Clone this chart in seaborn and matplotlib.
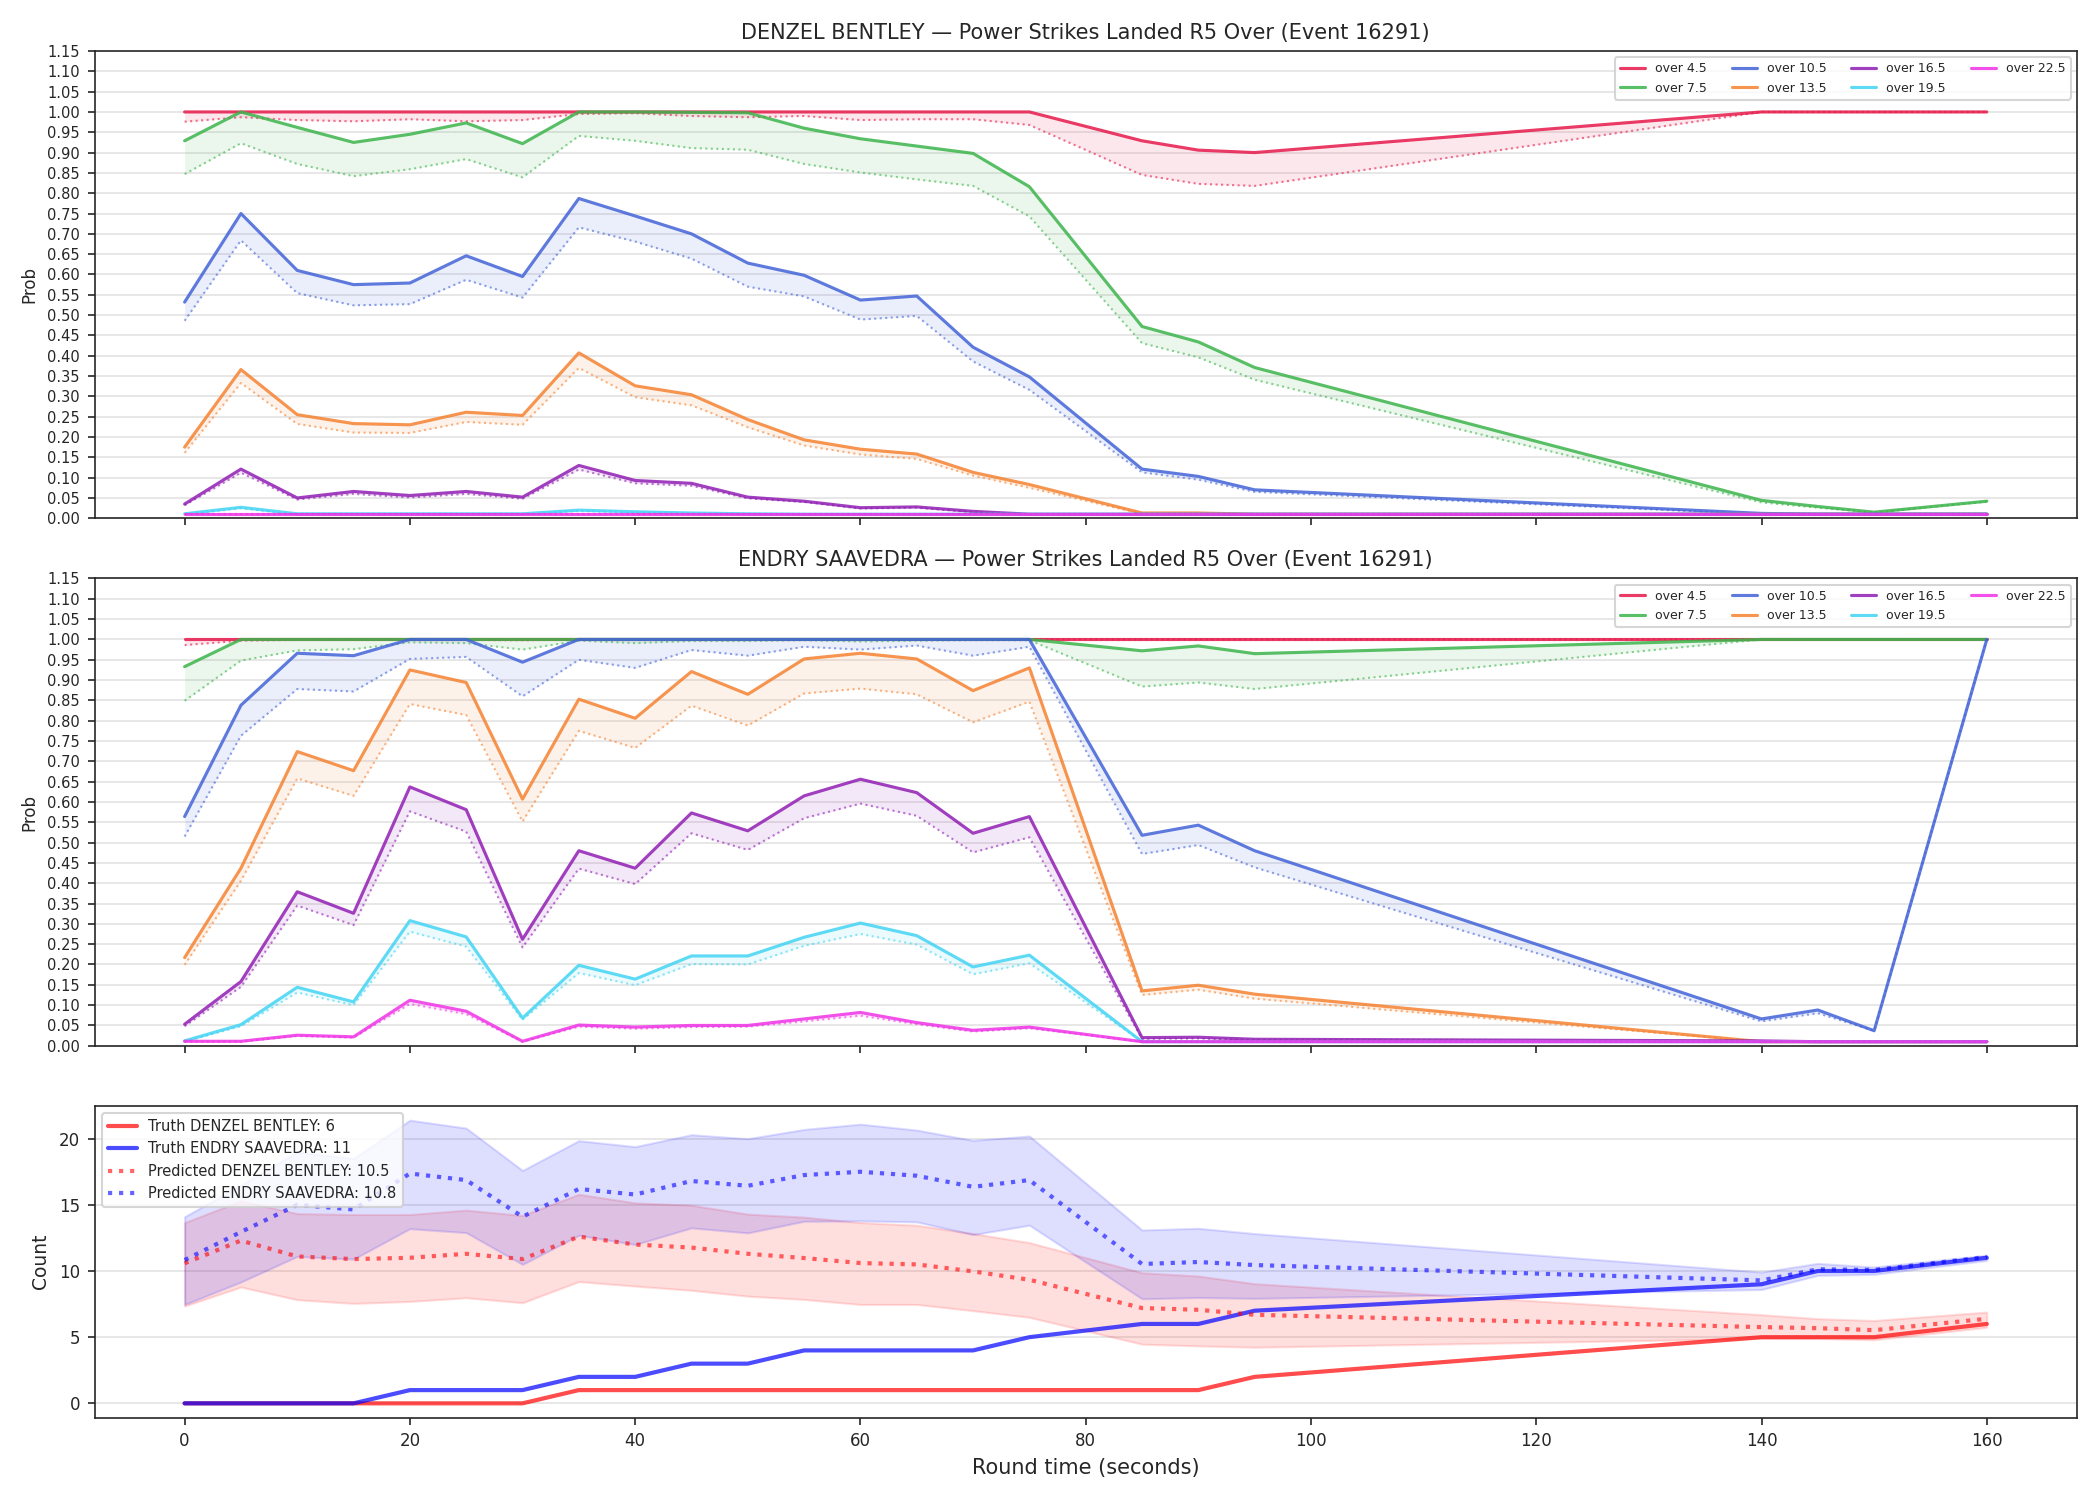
import numpy as np
import pandas as pd
import matplotlib
matplotlib.use("Agg")
import matplotlib.pyplot as plt
import seaborn as sns

# Round time grid (seconds)
times = [0, 5, 10, 15, 20, 25, 30, 35, 40, 45, 50, 55, 60, 65, 70, 75, 85, 90, 95, 140, 145, 150, 160]

thresholds = ["over 4.5", "over 7.5", "over 10.5", "over 13.5", "over 16.5", "over 19.5", "over 22.5"]

# DENZEL BENTLEY - upper (solid) and lower (dotted) probabilities
d45_hi = [1.0, 1.0, 1.0, 1.0, 1.0, 1.0, 1.0, 1.0, 1.0, 1.0, 1.0, 1.0, 1.0, 1.0, 1.0, 1.0, 0.929, 0.906, 0.90, 1.0, 1.0, 1.0, 1.0]
d45_lo = [0.976, 0.987, 0.98, 0.977, 0.982, 0.977, 0.98, 0.995, 0.997, 0.99, 0.987, 0.99, 0.98, 0.982, 0.982, 0.968, 0.845, 0.823, 0.818, 1.0, 1.0, 1.0, 1.0]
d75_hi = [0.929, 1.0, 0.962, 0.925, 0.945, 0.973, 0.922, 1.0, 1.0, 0.999, 0.998, 0.96, 0.934, 0.916, 0.898, 0.816, 0.472, 0.434, 0.371, 0.044, 0.029, 0.015, 0.042]
d75_lo = [0.847, 0.923, 0.872, 0.842, 0.859, 0.884, 0.839, 0.941, 0.929, 0.911, 0.907, 0.872, 0.851, 0.834, 0.818, 0.743, 0.431, 0.396, 0.341, 0.039, 0.026, 0.014, 0.041]
d105_hi = [0.532, 0.75, 0.61, 0.575, 0.579, 0.646, 0.595, 0.787, 0.744, 0.70, 0.628, 0.598, 0.537, 0.547, 0.421, 0.348, 0.121, 0.103, 0.07, 0.012, 0.01, 0.01, 0.01]
d105_lo = [0.486, 0.684, 0.554, 0.524, 0.527, 0.587, 0.543, 0.716, 0.681, 0.639, 0.570, 0.546, 0.489, 0.498, 0.386, 0.316, 0.113, 0.095, 0.065, 0.01, 0.01, 0.01, 0.01]
d135_hi = [0.175, 0.366, 0.255, 0.233, 0.230, 0.261, 0.253, 0.407, 0.326, 0.304, 0.243, 0.193, 0.170, 0.158, 0.113, 0.083, 0.013, 0.013, 0.01, 0.01, 0.01, 0.01, 0.01]
d135_lo = [0.161, 0.333, 0.232, 0.211, 0.21, 0.237, 0.23, 0.37, 0.298, 0.278, 0.224, 0.179, 0.157, 0.146, 0.105, 0.075, 0.011, 0.011, 0.01, 0.01, 0.01, 0.01, 0.01]
d165_hi = [0.035, 0.121, 0.05, 0.066, 0.056, 0.066, 0.052, 0.13, 0.093, 0.086, 0.052, 0.042, 0.026, 0.028, 0.017, 0.01, 0.01, 0.01, 0.01, 0.01, 0.01, 0.01, 0.01]
d165_lo = [0.032, 0.112, 0.046, 0.06, 0.051, 0.06, 0.048, 0.12, 0.086, 0.08, 0.049, 0.04, 0.024, 0.026, 0.015, 0.01, 0.01, 0.01, 0.01, 0.01, 0.01, 0.01, 0.01]
d195_hi = [0.011, 0.027, 0.011, 0.011, 0.011, 0.011, 0.011, 0.02, 0.016, 0.013, 0.011, 0.01, 0.01, 0.01, 0.01, 0.01, 0.01, 0.01, 0.01, 0.01, 0.01, 0.01, 0.01]
d195_lo = [0.01, 0.024, 0.01, 0.01, 0.01, 0.01, 0.01, 0.018, 0.014, 0.012, 0.01, 0.01, 0.01, 0.01, 0.01, 0.01, 0.01, 0.01, 0.01, 0.01, 0.01, 0.01, 0.01]
d225_hi = [0.01] * 23
d225_lo = [0.01] * 23

# ENDRY SAAVEDRA
e45_hi = [1.0] * 23
e45_lo = [0.986, 0.997, 0.999, 0.999, 0.999, 0.999, 0.998, 1.0, 1.0, 1.0, 1.0, 1.0, 1.0, 1.0, 1.0, 1.0, 1.0, 1.0, 1.0, 1.0, 1.0, 1.0, 1.0]
e75_hi = [0.933, 1.0, 1.0, 1.0, 1.0, 1.0, 1.0, 1.0, 1.0, 1.0, 1.0, 1.0, 1.0, 1.0, 1.0, 1.0, 0.972, 0.984, 0.965, 1.0, 1.0, 1.0, 1.0]
e75_lo = [0.849, 0.948, 0.973, 0.976, 0.993, 0.991, 0.975, 0.997, 0.991, 0.996, 0.996, 0.998, 0.995, 0.997, 0.998, 0.998, 0.884, 0.894, 0.878, 1.0, 1.0, 1.0, 1.0]
e105_hi = [0.564, 0.838, 0.966, 0.96, 1.0, 1.0, 0.944, 1.0, 1.0, 1.0, 1.0, 1.0, 1.0, 1.0, 1.0, 1.0, 0.518, 0.543, 0.48, 0.066, 0.088, 0.037, 1.0]
e105_lo = [0.515, 0.763, 0.878, 0.872, 0.952, 0.957, 0.86, 0.95, 0.93, 0.974, 0.96, 0.982, 0.975, 0.985, 0.96, 0.982, 0.472, 0.494, 0.439, 0.06, 0.08, 0.037, 1.0]
e135_hi = [0.217, 0.437, 0.724, 0.677, 0.925, 0.894, 0.607, 0.853, 0.806, 0.921, 0.865, 0.952, 0.966, 0.952, 0.874, 0.93, 0.135, 0.149, 0.127, 0.01, 0.01, 0.01, 0.01]
e135_lo = [0.199, 0.406, 0.658, 0.615, 0.841, 0.814, 0.552, 0.775, 0.733, 0.837, 0.788, 0.867, 0.879, 0.865, 0.796, 0.847, 0.125, 0.138, 0.116, 0.01, 0.01, 0.01, 0.01]
e165_hi = [0.053, 0.158, 0.379, 0.326, 0.637, 0.581, 0.262, 0.48, 0.437, 0.573, 0.529, 0.615, 0.656, 0.623, 0.523, 0.564, 0.02, 0.021, 0.016, 0.012, 0.01, 0.01, 0.01]
e165_lo = [0.048, 0.145, 0.345, 0.297, 0.577, 0.527, 0.242, 0.436, 0.398, 0.523, 0.482, 0.56, 0.596, 0.566, 0.476, 0.513, 0.017, 0.018, 0.014, 0.011, 0.01, 0.01, 0.01]
e195_hi = [0.012, 0.052, 0.144, 0.108, 0.308, 0.268, 0.068, 0.198, 0.164, 0.221, 0.221, 0.267, 0.302, 0.271, 0.194, 0.223, 0.01, 0.01, 0.01, 0.01, 0.01, 0.01, 0.01]
e195_lo = [0.01, 0.048, 0.131, 0.10, 0.281, 0.244, 0.064, 0.179, 0.149, 0.201, 0.20, 0.246, 0.275, 0.249, 0.176, 0.203, 0.01, 0.01, 0.01, 0.01, 0.01, 0.01, 0.01]
e225_hi = [0.011, 0.011, 0.026, 0.022, 0.112, 0.085, 0.011, 0.051, 0.046, 0.05, 0.05, 0.066, 0.082, 0.057, 0.038, 0.046, 0.01, 0.01, 0.01, 0.01, 0.01, 0.01, 0.01]
e225_lo = [0.01, 0.01, 0.024, 0.02, 0.103, 0.078, 0.01, 0.047, 0.042, 0.046, 0.047, 0.06, 0.074, 0.053, 0.035, 0.043, 0.01, 0.01, 0.01, 0.01, 0.01, 0.01, 0.01]

# Count panel
truth_denzel = [0, 0, 0, 0, 0, 0, 0, 1, 1, 1, 1, 1, 1, 1, 1, 1, 1, 1, 2, 5, 5, 5, 6]
truth_endry = [0, 0, 0, 0, 1, 1, 1, 2, 2, 3, 3, 4, 4, 4, 4, 5, 6, 6, 7, 9, 10, 10, 11]
pred_denzel = [10.58, 12.3, 11.1, 10.9, 11.0, 11.3, 10.9, 12.6, 12.0, 11.77, 11.3, 10.98, 10.6, 10.5, 9.97, 9.34, 7.2, 7.07, 6.69, 5.76, 5.68, 5.53, 6.39]
denzel_band_hi = [13.66, 15.3, 14.34, 14.27, 14.27, 14.6, 14.2, 15.8, 15.15, 14.97, 14.3, 14.07, 13.66, 13.46, 12.83, 12.15, 9.87, 9.62, 9.04, 6.7, 6.4, 6.26, 6.9]
denzel_band_lo = [7.35, 8.79, 7.83, 7.55, 7.7, 7.98, 7.6, 9.2, 8.86, 8.54, 8.1, 7.85, 7.47, 7.47, 7.0, 6.5, 4.47, 4.34, 4.24, 4.9, 4.9, 4.8, 5.75]
pred_endry = [10.83, 12.95, 15.0, 14.65, 17.37, 16.87, 14.1, 16.2, 15.78, 16.8, 16.44, 17.25, 17.5, 17.2, 16.36, 16.87, 10.53, 10.68, 10.45, 9.29, 10.13, 10.08, 11.06]
endry_band_hi = [14.1, 16.5, 19.0, 18.5, 21.4, 20.8, 17.6, 19.85, 19.4, 20.3, 20.0, 20.7, 21.1, 20.65, 19.87, 20.2, 13.1, 13.23, 12.83, 9.92, 10.58, 10.3, 11.2]
endry_band_lo = [7.47, 9.17, 11.1, 10.9, 13.2, 12.9, 10.5, 12.7, 12.0, 13.26, 12.88, 13.76, 13.79, 13.71, 12.75, 13.46, 7.9, 8.0, 7.93, 8.6, 9.67, 9.75, 10.8]

colors = ["#e6194b", "#3cb44b", "#4363d8", "#f58231", "#911eb4", "#42d4f4", "#f032e6"]

denzel_hi = [d45_hi, d75_hi, d105_hi, d135_hi, d165_hi, d195_hi, d225_hi]
denzel_lo = [d45_lo, d75_lo, d105_lo, d135_lo, d165_lo, d195_lo, d225_lo]
endry_hi = [e45_hi, e75_hi, e105_hi, e135_hi, e165_hi, e195_hi, e225_hi]
endry_lo = [e45_lo, e75_lo, e105_lo, e135_lo, e165_lo, e195_lo, e225_lo]


def prob_panel(ax, title, his, los):
    for name, col, hi, lo in zip(thresholds, colors, his, los):
        sns.lineplot(x=times, y=hi, ax=ax, color=col, lw=1.5, alpha=0.85, label=name)
        sns.lineplot(x=times, y=lo, ax=ax, color=col, lw=1.0, alpha=0.6, linestyle=":")
        ax.fill_between(times, lo, hi, color=col, alpha=0.1, lw=0)
    ax.set_ylim(0, 1.15)
    ax.set_yticks(np.arange(0, 1.151, 0.05))
    ax.set_yticklabels([f"{v:.2f}" for v in np.arange(0, 1.151, 0.05)], fontsize=7)
    ax.set_ylabel("Prob", fontsize=8)
    ax.set_title(title, fontsize=10)
    ax.grid(axis="y", color="#e3e3e3", lw=0.8)
    ax.legend(loc="upper right", ncol=4, fontsize=6, framealpha=0.8)


sns.set_style("ticks")
plt.rcParams["font.family"] = ["DejaVu Sans"]

fig, axes = plt.subplots(3, 1, figsize=(14, 10), dpi=150, sharex=True,
                         gridspec_kw={"height_ratios": [1.5, 1.5, 1]})
fig.subplots_adjust(left=0.045, right=0.989, top=0.966, bottom=0.055, hspace=0.145)

prob_panel(axes[0], "DENZEL BENTLEY \u2014 Power Strikes Landed R5 Over (Event 16291)", denzel_hi, denzel_lo)
prob_panel(axes[1], "ENDRY SAAVEDRA \u2014 Power Strikes Landed R5 Over (Event 16291)", endry_hi, endry_lo)

ax = axes[2]
count_df = pd.DataFrame({"t": times, "truth_d": truth_denzel, "truth_e": truth_endry,
                         "pred_d": pred_denzel, "pred_e": pred_endry})
ax.fill_between(times, denzel_band_lo, denzel_band_hi, color="red", alpha=0.13)
ax.fill_between(times, endry_band_lo, endry_band_hi, color="blue", alpha=0.13)
sns.lineplot(data=count_df, x="t", y="truth_d", ax=ax, color="red", alpha=0.7, lw=2,
             label="Truth DENZEL BENTLEY: 6")
sns.lineplot(data=count_df, x="t", y="truth_e", ax=ax, color="blue", alpha=0.7, lw=2,
             label="Truth ENDRY SAAVEDRA: 11")
sns.lineplot(data=count_df, x="t", y="pred_d", ax=ax, color="red", alpha=0.6, lw=2,
             linestyle=":", label="Predicted DENZEL BENTLEY: 10.5")
sns.lineplot(data=count_df, x="t", y="pred_e", ax=ax, color="blue", alpha=0.6, lw=2,
             linestyle=":", label="Predicted ENDRY SAAVEDRA: 10.8")
ax.set_ylabel("Count", fontsize=9)
ax.set_xlabel("Round time (seconds)", fontsize=10)
ax.grid(axis="y", color="#e3e3e3", lw=0.8)
ax.tick_params(labelsize=8)
ax.legend(loc="upper left", fontsize=7, framealpha=0.8)
ax.set_xticks([0, 20, 40, 60, 80, 100, 120, 140, 160])

fig.savefig("out.png", dpi=150)
